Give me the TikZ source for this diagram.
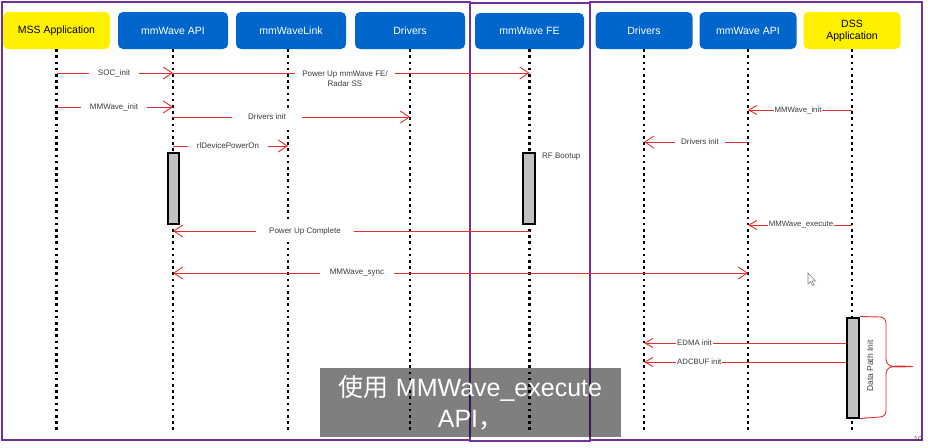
\documentclass[tikz,border=0pt]{standalone}
\usepackage{fontspec}
\setmainfont{Liberation Sans}
\newfontfamily\cjk{Noto Sans CJK SC}
\usetikzlibrary{arrows.meta}
\definecolor{tiblue}{RGB}{0,102,204}
\definecolor{tiyellow}{RGB}{255,240,0}
\definecolor{framepurple}{RGB}{112,48,160}
\definecolor{msgred}{RGB}{228,45,45}
\definecolor{lbltext}{RGB}{60,60,60}
\definecolor{actgray}{RGB}{192,192,192}
\begin{document}
\begin{tikzpicture}[x=1pt,y=-1pt,
  hdr/.style={rounded corners=5pt, fill=tiblue, text=white, minimum width=110pt, minimum height=37pt, inner sep=0pt, align=center, font=\fontsize{10.5}{12}\selectfont},
  apphdr/.style={hdr, fill=tiyellow, text=black},
  lifeline/.style={line width=2.5pt, dash pattern=on 2.5pt off 3.7pt},
  msg/.style={draw=msgred, line width=0.9pt, -{Straight Barb[length=9pt,width=12pt]}},
  smsg/.style={draw=msgred, line width=0.9pt, -{Straight Barb[length=8pt,width=9pt]}},
  lbl/.style={fill=white, text=lbltext, inner xsep=9pt, inner ysep=6pt, font=\fontsize{8}{10}\selectfont, align=center},
  slbl/.style={fill=white, text=lbltext, inner xsep=1pt, inner ysep=1.5pt, font=\fontsize{7.8}{9}\selectfont},
  act/.style={draw=black, line width=2pt, fill=actgray, inner sep=0pt},
  frm/.style={draw=framepurple, line width=2pt}
]
\useasboundingbox (0,0) rectangle (928,447);

% frames
\draw[frm] (2,2) rectangle (470,440);
\draw[frm] (470,3) rectangle (590,441);
\draw[frm] (590,2) rectangle (922,440);

% headers
\node[apphdr, minimum width=107pt] (mss) at (56.5,30.5) {MSS Application};
\node[hdr] (api) at (173,30.5) {mmWave API};
\node[hdr] (link) at (291,30.5) {mmWaveLink};
\node[hdr] (drv) at (410,30.5) {Drivers};
\node[hdr, minimum width=109pt, minimum height=36pt] (fe) at (529.5,31) {mmWave FE};
\node[hdr, minimum width=97pt] (drvr) at (644,30.5) {Drivers};
\node[hdr, minimum width=97pt] (apir) at (748,30.5) {mmWave API};
\node[apphdr, minimum width=97pt] (dss) at (852,30.5) {DSS\\Application};

\coordinate (linkx) at ([xshift=-3pt]link.south);

% lifelines
\draw[lifeline] (mss.south) -- ++(0,381);
\draw[lifeline] (api.south) -- ++(0,381);
\draw[lifeline] (linkx) -- ++(0,381);
\draw[lifeline] (drv.south) -- ++(0,381);
\draw[lifeline] (fe.south) -- ++(0,381);
\draw[lifeline] (drvr.south) -- ++(0,381);
\draw[lifeline] (apir.south) -- ++(0,381);
\draw[lifeline] (dss.south) -- ++(0,381);

\path (173,188.5) coordinate (apiactc) (529,188.5) coordinate (feactc) (853,367.5) coordinate (dssactc);

% messages left
\draw[msg] (mss.south |- 0,73) -- (api.south |- 0,73);
\draw[msg] (api.south |- 0,73) -- (fe.south |- 0,73);
\draw[msg] (mss.south |- 0,107) -- (api.south |- 0,107);
\draw[msg] (api.south |- 0,117) -- (drv.south |- 0,117);
\draw[msg] (api.south |- 0,146) -- (linkx |- 0,146);
\draw[msg] (fe.south |- 0,231) -- (api.south |- 0,231);
\draw[msg, {Straight Barb[length=9pt,width=12pt]}-{Straight Barb[length=9pt,width=12pt]}] (api.south |- 0,273) -- (apir.south |- 0,273);

% messages right
\draw[smsg] (dss.south |- 0,110) -- (apir.south |- 0,110);
\draw[msg] (apir.south |- 0,142) -- (drvr.south |- 0,142);
\draw[smsg] (dss.south |- 0,225) -- (apir.south |- 0,225);

% labels
\node[lbl] (l1) at (114,73) {SOC\_init};
\node[lbl, inner xsep=7pt, inner ysep=3pt] (l2) at (345,79) {Power Up mmWave FE/\\Radar SS};
\node[lbl] (l3) at (114,107) {MMWave\_init};
\node[lbl, inner xsep=16pt] (l4) at (267,117) {Drivers init};
\node[lbl] (l5) at (228,146) {rlDevicePowerOn};
\node[lbl, inner xsep=13pt, inner ysep=7pt] (l6) at (305,231) {Power Up Complete};
\node[lbl, inner xsep=10pt] (l7) at (357,273) {MMWave\_sync};
\node[slbl] (r1) at (798,110) {MMWave\_init};
\node[lbl, inner xsep=6pt, inner ysep=3pt] (r2) at (700,142) {Drivers init};
\node[slbl] (r3) at (801,225) {MMWave\_execute};

% activation boxes
\node[act, minimum width=11pt, minimum height=71pt] (apiact) at (apiactc) {};
\node[act, minimum width=12pt, minimum height=71pt] (feact) at (feactc) {};
\node[act, minimum width=12pt, minimum height=100pt] (dssact) at (dssactc) {};
\node[anchor=west, text=lbltext, font=\fontsize{8}{10}\selectfont, inner sep=0pt] (rf) at (542,157) {RF Bootup};

% data path messages
\draw[smsg] (dssact.west |- 0,343) -- (drvr.south |- 0,343);
\draw[smsg] (dssact.west |- 0,362) -- (drvr.south |- 0,362);
\node[slbl, anchor=west] (r4) at (676,343) {EDMA init};
\node[slbl, anchor=west] (r5) at (676,362) {ADCBUF init};

% brace
\draw[draw=msgred, line width=0.9pt] (dssact.north east) -- (880,317) to[out=0,in=90] (886,323) -- (886,359) to[out=-90,in=180] (913,366.5) to[out=180,in=90] (886,374) -- (886,411) to[out=-90,in=0] (880,417) -- (dssact.south east);
\node[rotate=90, text=lbltext, font=\fontsize{8.5}{10}\selectfont, inner sep=0pt] (dpi) at (870,366) {Data Path Init};

% cursor
\draw[gray, fill=white, line width=0.6pt] (808,273) -- (808,284) -- (810.5,281.5) -- (812.5,285.5) -- (814,284.8) -- (812,281) -- (815.5,281) -- cycle;

% page number
\node[text=black!75, font=\fontsize{7}{8}\selectfont, inner sep=0pt] (pg) at (918,439) {10};

% caption overlay
\node[fill=black, fill opacity=0.5, text opacity=1, text=white, minimum width=301pt, minimum height=69pt, inner sep=0pt, align=center, font=\fontsize{25}{31}\selectfont] (cap) at (470.5,402.5) {{\cjk 使用} MMWave\_execute\\API{\cjk ，}};
\end{tikzpicture}
\end{document}
